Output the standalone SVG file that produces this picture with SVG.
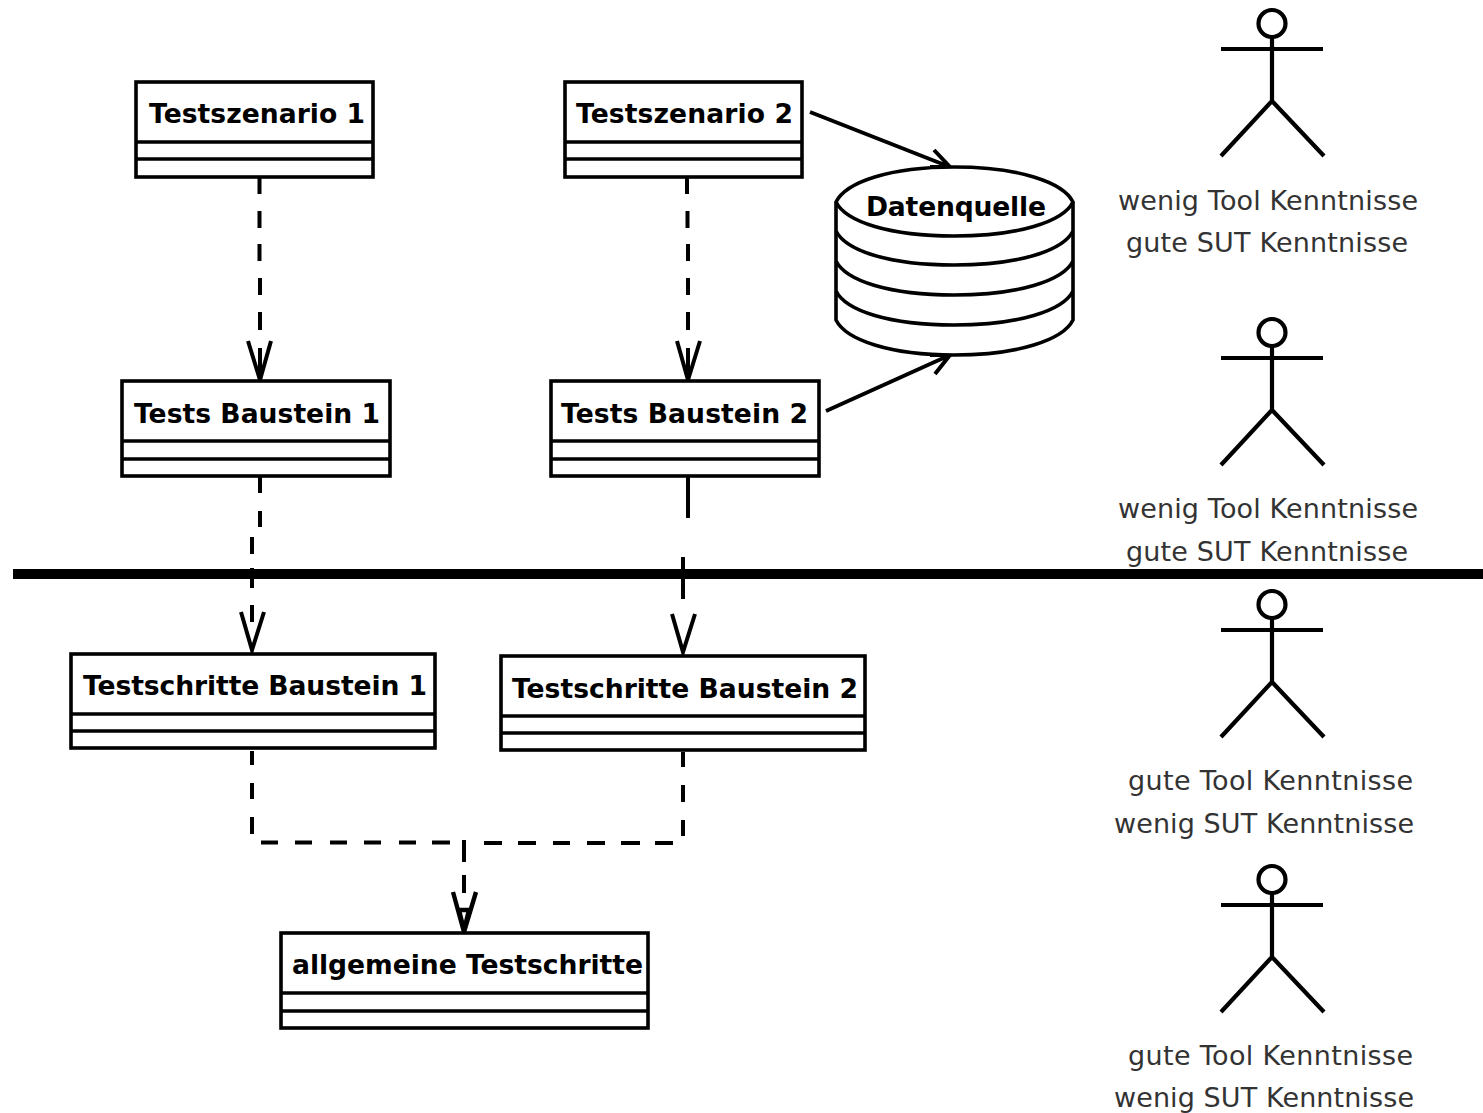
<svg xmlns="http://www.w3.org/2000/svg" width="1483" height="1113" viewBox="0 0 1483 1113">
<style>
.b{fill:#fff;stroke:#000;stroke-width:3.6}
.l{fill:none;stroke:#000;stroke-width:3.6}
.c{fill:none;stroke:#000;stroke-width:4}
.h{fill:none;stroke:#000;stroke-width:4}
.s{fill:none;stroke:#000;stroke-width:4.2}
.t{font-family:"DejaVu Sans",sans-serif;font-weight:bold;font-size:26.600px;fill:#000}
.a{font-family:"DejaVu Sans",sans-serif;font-size:27px;fill:#333}
</style>
<defs>
<g id="actor" class="s"><circle cx="1272" cy="23.500" r="13.500"/><path d="M1272 37V101M1221 49H1323M1272 101L1221 156M1272 101L1324 156"/></g>
</defs>
<rect width="1483" height="1113" fill="#fff"/>
<g id="connectors">
<path class="c" d="M259.500 177V194M259.500 211V228M259.500 244V261M260 278V295M260 312V330M260 348V380"/>
<path class="h" d="M248 341L260 380L271 341"/>
<path class="c" d="M687 177V194M687.500 211V228M688 244V261M688 278V295M688 312V330M688 348V380"/>
<path class="h" d="M677 341L688 380L700 341"/>
<path class="h" d="M810 112L950 167M934 150L950 167L930 167"/>
<path class="h" d="M826 411L950 355M935 374L950 355L930 355"/>
<path class="c" d="M260 477V493M260 511V527M252 537V554M252 568V588M252 605V622"/>
<path class="h" d="M241 612L252 650L264 612"/>
<path class="c" d="M688 477V518M683 557V599"/>
<path class="h" d="M672 614L683 652L695 614"/>
<path class="c" d="M252 751V765M252 783V799M252 817V834M261 842.500H278M295 842.500H312M330 842.500H347M364 842.500H381M399 842.500H416M432 842.500H450M484 843H502M518 843H536M553 843H570M587 843H605M621 843H640M655 843H673M683 752V767M683 785V802M683 820V836M464 840V862M464 875V893"/>
<path d="M453 892L464 932L476 892M459 910L464 930L469 910Z" fill="none" stroke="#000" stroke-width="4.400"/>
<path d="M13 574H1483" fill="none" stroke="#000" stroke-width="10"/>
</g>
<g id="n1"><rect class="b" x="136" y="82" width="237" height="95"/><path class="l" d="M136 142H373M136 159H373"/><text class="t" x="149" y="123" textLength="216">Testszenario 1</text></g>
<g id="n2"><rect class="b" x="565" y="82" width="237" height="95"/><path class="l" d="M565 142H802M565 159H802"/><text class="t" x="576" y="123" textLength="217">Testszenario 2</text></g>
<g id="n3"><rect class="b" x="122" y="381" width="268" height="95"/><path class="l" d="M122 441H390M122 459H390"/><text class="t" x="134" y="423" textLength="246">Tests Baustein 1</text></g>
<g id="n4"><rect class="b" x="551" y="381" width="268" height="95"/><path class="l" d="M551 441H819M551 459H819"/><text class="t" x="561" y="423" textLength="247">Tests Baustein 2</text></g>
<g id="n5"><rect class="b" x="71" y="654" width="364" height="94"/><path class="l" d="M71 714H435M71 731H435"/><text class="t" x="83" y="695" textLength="344">Testschritte Baustein 1</text></g>
<g id="n6"><rect class="b" x="501" y="656" width="364" height="94"/><path class="l" d="M501 716H865M501 733H865"/><text class="t" x="512" y="698" textLength="346">Testschritte Baustein 2</text></g>
<g id="n7"><rect class="b" x="281" y="933" width="367" height="95"/><path class="l" d="M281 993H648M281 1011H648"/><text class="t" x="292" y="974" textLength="351">allgemeine Testschritte</text></g>
<g id="db">
<path class="b" d="M836 202C846 182 890 167 954 167C1018 167 1063 182 1073 202V320C1063 340 1018 355 954 355C890 355 846 340 836 320Z"/>
<path class="l" d="M836 202C846 222 890 236 954 236C1018 236 1063 222 1073 202M836 231C846 251 890 265 954 265C1018 265 1063 251 1073 231M836 261C846 281 890 295 954 295C1018 295 1063 281 1073 261M836 291C846 311 890 325 954 325C1018 325 1063 311 1073 291"/>
<text class="t" x="866" y="216" textLength="180">Datenquelle</text></g>
<g id="a1"><use href="#actor"/><text class="a" x="1118" y="210" textLength="300">wenig Tool Kenntnisse</text><text class="a" x="1126" y="252" textLength="282">gute SUT Kenntnisse</text></g>
<g id="a2"><use href="#actor" y="309"/><text class="a" x="1118" y="518" textLength="300">wenig Tool Kenntnisse</text><text class="a" x="1126" y="561" textLength="282">gute SUT Kenntnisse</text></g>
<g id="a3"><use href="#actor" y="581"/><text class="a" x="1128" y="790" textLength="285">gute Tool Kenntnisse</text><text class="a" x="1114" y="833" textLength="300">wenig SUT Kenntnisse</text></g>
<g id="a4"><use href="#actor" y="856"/><text class="a" x="1128" y="1065" textLength="285">gute Tool Kenntnisse</text><text class="a" x="1114" y="1107" textLength="300">wenig SUT Kenntnisse</text></g>
</svg>
